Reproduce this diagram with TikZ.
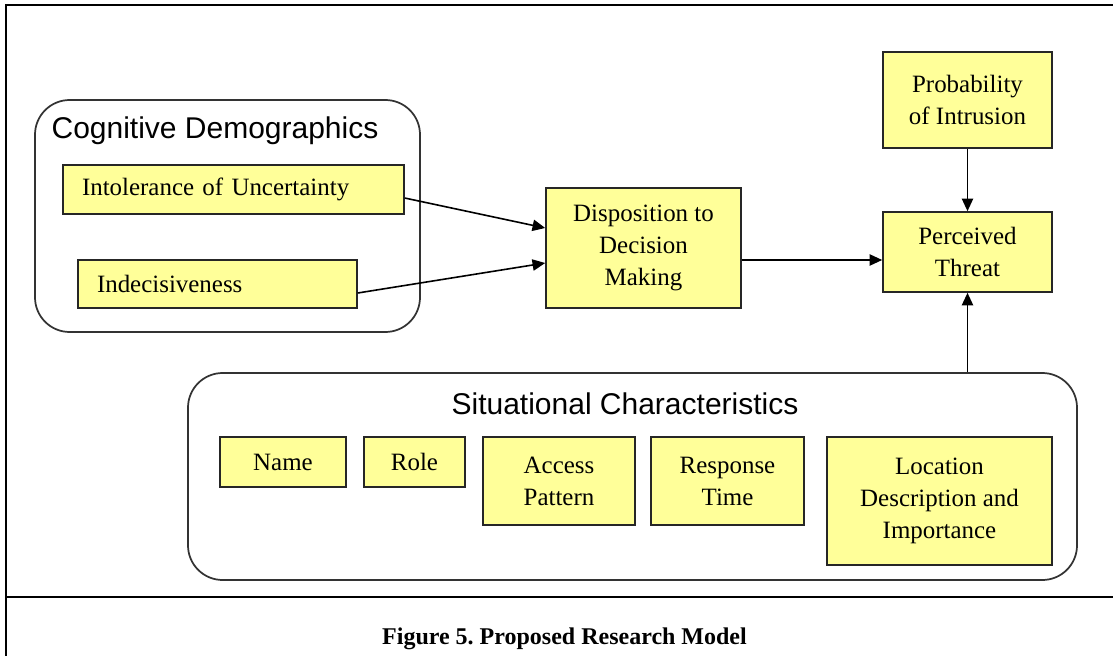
\documentclass[tikz,border=0pt]{standalone}
\usepackage{fontspec}
\setmainfont{Liberation Serif}
\setsansfont{Liberation Sans}
\usetikzlibrary{arrows.meta,calc}
\definecolor{boxyellow}{RGB}{255,255,153}
\frenchspacing

\begin{document}
\begin{tikzpicture}[
    x=0.75pt, y=-0.75pt,
    block/.style={rectangle, draw=black!85, line width=1.2pt, fill=boxyellow, align=center, inner sep=0pt, font=\fontsize{18.7}{24}\selectfont},
    group/.style={rectangle, draw=black!80, line width=1.3pt, rounded corners=26pt, inner sep=0pt},
    heading/.style={font=\sffamily\fontsize{22.5}{27}\selectfont, inner sep=0pt},
    arrow/.style={-{Triangle[length=9.5pt,width=8.5pt]}, line width=1.2pt},
    frame/.style={line width=1.6pt}
]
\useasboundingbox (0,0) rectangle (1113,656);

% Figure frame
\draw[frame] (1113,5) -- (6,5) -- (6,656);
\draw[frame] (6,597) -- (1113,597);

% Groups
\node[group, minimum width=288.75pt, minimum height=174pt] (cogn) at (227.5,216) {};
\node[heading] (cogntitle) at (215,131) {Cognitive Demographics};
\node[group, minimum width=666.75pt, minimum height=155.25pt] (situ) at (632.5,476.5) {};
\node[heading] (situtitle) at (625,404) {Situational Characteristics};

% Main blocks
\node[block, minimum width=255.75pt, minimum height=36.75pt, text width=227.25pt, align=left] (intol) at (233.5,189.5) {Intolerance of Uncertainty};
\node[block, minimum width=209.25pt, minimum height=36pt, text width=180.75pt, align=left] (indec) at (217.5,284) {Indecisiveness};
\node[block, minimum width=146.25pt, minimum height=90pt] (disp) at (643.5,248) {Disposition to\\Decision\\Making};
\node[block, minimum width=126.75pt, minimum height=72pt] (prob) at (967.5,100) {Probability\\of Intrusion};
\node[block, minimum width=126.75pt, minimum height=60pt] (threat) at (967.5,252) {Perceived\\Threat};

% Situational blocks
\node[block, minimum width=94.5pt, minimum height=37.5pt] (name) at (283,462) {Name};
\node[block, minimum width=75.75pt, minimum height=37.5pt] (role) at (414.5,462) {Role};
\node[block, minimum width=114pt, minimum height=66pt] (access) at (559,481) {Access\\Pattern};
\node[block, minimum width=114.75pt, minimum height=66pt] (resp) at (727.5,481) {Response\\Time};
\node[block, minimum width=168.75pt, minimum height=96pt] (loc) at (939.5,501) {Location\\Description and\\Importance};

% Connectors
\draw[arrow] ([yshift=-6.4pt]intol.east) -- ([yshift=15pt]disp.west);
\draw[arrow] ([yshift=-6.75pt]indec.east) -- ([yshift=-11.25pt]disp.west);
\draw[arrow] ([yshift=-9pt]disp.east) -- ([yshift=-9pt]disp.east -| threat.west);
\draw[arrow] (prob) -- (threat);
\draw[arrow] (situ.north -| threat.south) -- (threat.south);

% Caption
\node[font=\bfseries\fontsize{18}{22}\selectfont] (caption) at (564.5,639) {Figure 5. Proposed Research Model};

\end{tikzpicture}
\end{document}
